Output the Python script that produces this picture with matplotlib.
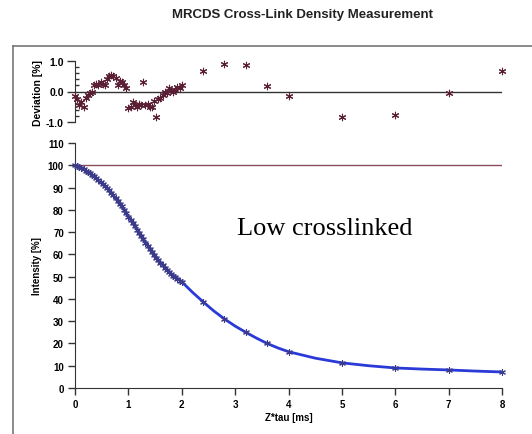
import matplotlib.pyplot as plt
from matplotlib.lines import Line2D
from matplotlib.ticker import MultipleLocator, FormatStrFormatter

plt.rcParams['font.family'] = 'sans-serif'
plt.rcParams['font.sans-serif'] = ['Liberation Sans', 'DejaVu Sans']

# Pontos densos (0 - 2 ms)
x_dense = [0.00, 0.04, 0.08, 0.12, 0.16, 0.20, 0.24, 0.28, 0.32, 0.36,
           0.40, 0.44, 0.48, 0.52, 0.56, 0.60, 0.64, 0.68, 0.72, 0.76,
           0.80, 0.84, 0.88, 0.92, 0.96, 1.00, 1.04, 1.08, 1.12, 1.16,
           1.20, 1.24, 1.28, 1.32, 1.36, 1.40, 1.44, 1.48, 1.52, 1.56,
           1.60, 1.64, 1.68, 1.72, 1.76, 1.80, 1.84, 1.88, 1.92, 1.96,
           2.00]
# Pontos esparsos
x_sparse = [2.4, 2.8, 3.2, 3.6, 4.0, 5.0, 6.0, 7.0, 8.0]

tau = x_dense + x_sparse

# Intensidade medida [%]
intensity = [100.0, 99.6, 99.2, 98.8, 98.2, 97.6, 97.0, 96.4, 95.7, 95.0,
             94.2, 93.4, 92.6, 91.7, 90.8, 89.8, 88.8, 87.7, 86.6, 85.4,
             84.1, 82.8, 81.5, 80.1, 78.6, 76.9, 75.5, 74.1, 72.6, 71.1,
             69.7, 68.2, 66.9, 65.2, 63.8, 62.4, 61.0, 59.8, 58.4, 57.3,
             56.2, 55.2, 54.1, 53.2, 52.2, 51.3, 50.5, 49.7, 48.9, 48.2,
             47.6,
             38.6, 31.0, 25.0, 20.0, 16.3, 11.2, 8.8, 8.1, 7.3]

# Desvio do ajuste [%]
deviation = [-0.15, -0.25, -0.45, -0.35, -0.50, -0.20, -0.10, -0.05, 0.00, 0.20,
             0.25, 0.20, 0.30, 0.25, 0.20, 0.40, 0.50, 0.55, 0.50, 0.45,
             0.20, 0.35, 0.30, 0.20, 0.10, -0.55, -0.50, -0.35, -0.45, -0.50,
             -0.40, -0.45, 0.30, -0.45, -0.40, -0.50, -0.50, -0.30, -0.85, -0.25,
             -0.20, -0.10, 0.00, -0.05, 0.10, 0.05, 0.00, 0.05, 0.15, 0.10,
             0.22,
             0.68, 0.90, 0.88, 0.18, -0.15, -0.82, -0.78, -0.05, 0.68]

# Curva ajustada
fit_x = [0.0, 0.2, 0.4, 0.6, 0.8, 1.0, 1.2, 1.4, 1.6, 1.8, 2.0, 2.2, 2.4,
         2.6, 2.8, 3.0, 3.2, 3.4, 3.6, 3.8, 4.0, 4.5, 5.0, 5.5, 6.0, 6.5,
         7.0, 7.5, 8.0]
fit_y = [100.0, 97.7, 94.1, 89.7, 84.0, 77.1, 69.9, 62.6, 56.3, 51.4, 47.7,
         43.0, 38.7, 34.6, 31.0, 27.8, 25.0, 22.4, 20.0, 18.0, 16.3, 13.4,
         11.3, 10.0, 9.0, 8.5, 8.1, 7.6, 7.2]

fig = plt.figure(figsize=(5.32, 4.35), dpi=100)
fig.patch.set_facecolor('white')

# Moldura (esquerda e topo)
fig.add_artist(Line2D([13 / 532, 13 / 532], [1 - 47 / 435, 0], color='#777777', lw=1.2))
fig.add_artist(Line2D([13 / 532, 1], [1 - 47 / 435, 1 - 47 / 435], color='#777777', lw=1.2))

fig.text(303 / 532, 1 - 15 / 435, "MRCDS Cross-Link Density Measurement",
         ha='center', va='center', fontsize=9.5, weight='bold', color='#222222')

ax_dev = fig.add_axes([75 / 532, 1 - 123 / 435, 427 / 532, 61 / 435])
ax = fig.add_axes([75 / 532, 1 - 389 / 435, 427 / 532, 245 / 435])

# Painel de desvio
ax_dev.axhline(0, color='#333333', lw=1.0, zorder=2)
ax_dev.scatter(tau, deviation, marker=(6, 2, 0), s=22, color='#5a1f35',
               linewidths=0.8, zorder=3, clip_on=False)
ax_dev.set_xlim(0, 8)
ax_dev.set_ylim(-1.0, 1.0)
ax_dev.set_xticks([])
for s in ['top', 'right', 'bottom']:
    ax_dev.spines[s].set_visible(False)
ax_dev.spines['left'].set_color('#333333')
ax_dev.yaxis.set_major_locator(MultipleLocator(1.0))
ax_dev.yaxis.set_minor_locator(MultipleLocator(0.2))
ax_dev.yaxis.set_major_formatter(FormatStrFormatter('%.1f'))
ax_dev.tick_params(axis='y', which='major', direction='out', length=6, width=1,
                   labelsize=7.5, color='#333333', pad=2)
ax_dev.tick_params(axis='y', which='minor', direction='in', length=3, width=1, color='#333333')
for lbl in ax_dev.get_yticklabels():
    lbl.set_fontweight('bold')
ax_dev.set_ylabel("Deviation [%]", fontsize=7.5, weight='bold', labelpad=2)
ax_dev.patch.set_alpha(0)

# Painel de intensidade
ax.axhline(100, color='#8b4d5c', lw=1.0, zorder=2)
ax.plot(fit_x, fit_y, color='#2a3ad6', lw=2.0, zorder=3)
ax.scatter(tau, intensity, marker=(6, 2, 0), s=18, color='#3b3b8a',
           linewidths=0.8, zorder=4, clip_on=False)
ax.set_xlim(0, 8)
ax.set_ylim(0, 110)
ax.set_xticks(range(0, 9))
ax.set_yticks(range(0, 111, 10))
for s in ['top', 'right']:
    ax.spines[s].set_visible(False)
ax.spines['left'].set_color('#333333')
ax.spines['bottom'].set_color('#333333')
ax.tick_params(direction='out', length=5, width=1, labelsize=7, color='#333333', pad=3)
for lbl in ax.get_xticklabels() + ax.get_yticklabels():
    lbl.set_fontweight('bold')
ax.set_xlabel("Z*tau [ms]", fontsize=7, weight='bold', labelpad=2)
ax.set_ylabel("Intensity [%]", fontsize=7, weight='bold', labelpad=4)
ax.patch.set_alpha(0)

ax.text(3.03, 71.8, "Low crosslinked", fontsize=19, family='Liberation Serif',
        ha='left', va='center', color='black')

fig.savefig('out.png', dpi=100, facecolor='white')
